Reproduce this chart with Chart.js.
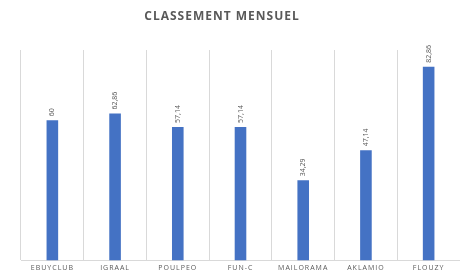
<!DOCTYPE html>
<html>
<head>
<meta charset="utf-8">
<script src="https://cdn.jsdelivr.net/npm/chart.js@4"></script>
<style>
  html, body { margin: 0; padding: 0; background: #fff; }
  #wrap { width: 460px; height: 276px; }
</style>
</head>
<body>
<div id="wrap"><canvas id="myChart"></canvas></div>
<script>
const categories = ['EBUYCLUB', 'IGRAAL', 'POULPEO', 'FUN-C', 'MAILORAMA', 'AKLAMIO', 'FLOUZY'];
const scores = [60, 62.86, 57.14, 57.14, 34.29, 47.14, 82.86];
const yMax = 90;
const titleText = 'CLASSEMENT MENSUEL';

const grey = '#595959';

// labels de valeur verticaux au-dessus des barres
const valueLabels = {
  id: 'valueLabels',
  afterDatasetsDraw(chart) {
    const ctx = chart.ctx;
    const meta = chart.getDatasetMeta(0);
    ctx.save();
    ctx.letterSpacing = '0px';
    ctx.font = '7px "Open Sans", sans-serif';
    ctx.fillStyle = grey;
    ctx.textAlign = 'left';
    ctx.textBaseline = 'middle';
    meta.data.forEach((bar, i) => {
      const txt = String(scores[i]).replace('.', ',');
      ctx.save();
      ctx.translate(bar.x, bar.y - 4);
      ctx.rotate(-Math.PI / 2);
      ctx.fillText(txt, 0, 0);
      ctx.restore();
    });
    ctx.restore();
  },
};

// titre avec espacement des lettres
const titlePlugin = {
  id: 'titlePlugin',
  afterDraw(chart) {
    const ctx = chart.ctx;
    ctx.save();
    ctx.letterSpacing = '1px';
    ctx.font = 'bold 12px "Open Sans", sans-serif';
    ctx.fillStyle = grey;
    ctx.textAlign = 'center';
    ctx.textBaseline = 'middle';
    ctx.fillText(titleText, 222, 17);
    ctx.restore();
  },
};

// espacement des lettres pour les catégories
const spacing = {
  id: 'spacing',
  beforeDraw(chart) {
    chart.ctx.letterSpacing = '1px';
  },
};

const ctx = document.getElementById('myChart');
new Chart(ctx, {
  type: 'bar',
  data: {
    labels: categories,
    datasets: [
      {
        label: 'Classement',
        data: scores,
        backgroundColor: '#4472C4',
        barPercentage: 0.37,
        categoryPercentage: 0.5,
      },
    ],
  },
  options: {
    responsive: true,
    maintainAspectRatio: false,
    animation: false,
    layout: { padding: { left: 21, right: 0, top: 50, bottom: 1 } },
    plugins: {
      legend: { display: false },
      tooltip: { enabled: false },
      title: { display: false },
    },
    scales: {
      x: {
        grid: { color: '#d9d9d9', drawTicks: false, offset: true },
        border: { color: '#d9d9d9' },
        ticks: {
          color: grey,
          font: { family: 'Open Sans', size: 7 },
          padding: 3,
          maxRotation: 0,
        },
      },
      y: {
        display: false,
        min: 0,
        max: yMax,
      },
    },
  },
  plugins: [spacing, valueLabels, titlePlugin],
});
</script>
</body>
</html>
